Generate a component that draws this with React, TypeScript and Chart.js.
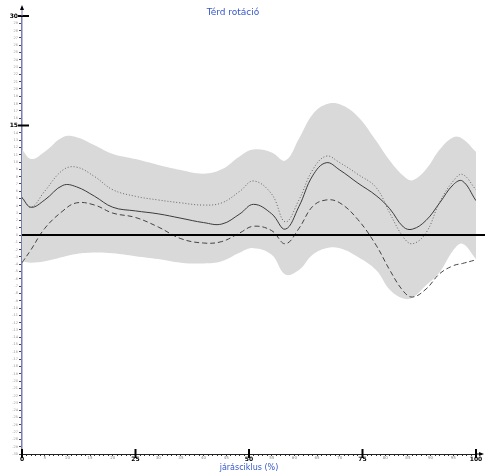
import React, { useEffect, useRef } from 'react';
import { Chart, registerables } from 'chart.js';

Chart.register(...registerables);

// gait cycle (%) sample positions
const gaitCycle = [0, 2, 5, 9, 12, 16, 20, 25, 30, 35, 40, 44, 48, 51, 55, 58, 61, 64, 67, 70, 74, 78, 81, 84, 86, 89, 92, 95, 97, 100];
// mean knee rotation (solid)
const meanCurve = [5.1, 3.8, 4.8, 6.8, 6.6, 5.3, 3.8, 3.3, 2.9, 2.3, 1.7, 1.5, 2.9, 4.2, 2.9, 0.8, 3.9, 8.1, 9.9, 8.9, 7.1, 5.4, 3.6, 1.1, 0.8, 2.0, 4.4, 6.9, 7.4, 4.7];
// dotted curve
const dottedCurve = [5.2, 3.8, 6.0, 8.9, 9.3, 8.0, 6.2, 5.3, 4.8, 4.4, 4.1, 4.4, 6.0, 7.4, 5.6, 1.8, 4.8, 8.9, 10.8, 9.9, 8.3, 6.5, 3.0, -0.3, -1.2, 0.3, 4.5, 7.4, 8.3, 6.2];
// dashed curve
const dashedCurve = [-3.8, -2.0, 0.9, 3.3, 4.4, 4.1, 3.0, 2.4, 1.1, -0.5, -1.1, -0.9, 0.3, 1.2, 0.6, -1.2, 0.9, 3.9, 4.8, 4.4, 2.1, -1.4, -4.8, -7.7, -8.5, -7.4, -5.3, -4.2, -3.9, -3.4];
// normal band (gray)
const bandUpper = [11.7, 10.4, 11.4, 13.4, 13.4, 12.3, 11.1, 10.4, 9.6, 8.9, 8.4, 9.0, 10.8, 11.7, 11.3, 10.2, 13.2, 16.5, 17.9, 17.9, 16.2, 12.9, 10.2, 8.1, 7.5, 9.0, 11.7, 13.4, 13.2, 11.4];
const bandLower = [-3.6, -3.8, -3.6, -3.0, -2.6, -2.4, -2.5, -2.9, -3.3, -3.8, -3.9, -3.6, -2.4, -1.8, -2.7, -5.4, -4.8, -2.7, -1.8, -1.8, -3.0, -4.8, -7.5, -8.7, -8.6, -6.9, -5.1, -2.1, -1.2, -3.3];

const yMajorTicks = [30, 15];
const xMajorTicks = [0, 25, 50, 75, 100];
const zeroLineValue = 0;

const chartTitle = 'Térd rotáció';
const xTitle = 'járásciklus (%)';

const FONT = 'Verdana, "DejaVu Sans", sans-serif';
const BLUE = '#3557c9';

const decor = {
  id: 'decor',
  afterDatasetsDraw(chart: any) {
    const { ctx, scales } = chart;
    const x = scales.x;
    const y = scales.y;
    ctx.save();
    // zero line
    const y0 = y.getPixelForValue(zeroLineValue);
    ctx.strokeStyle = '#000';
    ctx.lineWidth = 2;
    ctx.beginPath();
    ctx.moveTo(x.left, y0);
    ctx.lineTo(chart.width, y0);
    ctx.stroke();
    // y major marks
    ctx.lineWidth = 2;
    for (const v of yMajorTicks) {
      const py = y.getPixelForValue(v);
      ctx.beginPath();
      ctx.moveTo(x.left - 4, py);
      ctx.lineTo(x.left + 7, py);
      ctx.stroke();
    }
    // x major marks
    for (const v of xMajorTicks) {
      const px = x.getPixelForValue(v);
      ctx.beginPath();
      ctx.moveTo(px, y.bottom - 5);
      ctx.lineTo(px, y.bottom + 4);
      ctx.stroke();
    }
    // axis arrows
    ctx.lineWidth = 1;
    ctx.strokeStyle = '#7c7cb8';
    ctx.beginPath();
    ctx.moveTo(x.left, y.top);
    ctx.lineTo(x.left, y.top - 8);
    ctx.stroke();
    ctx.fillStyle = '#000';
    ctx.beginPath();
    ctx.moveTo(x.left, y.top - 11);
    ctx.lineTo(x.left - 2, y.top - 6);
    ctx.lineTo(x.left + 2, y.top - 6);
    ctx.closePath();
    ctx.fill();
    ctx.strokeStyle = '#000';
    ctx.beginPath();
    ctx.moveTo(x.right, y.bottom);
    ctx.lineTo(x.right + 4, y.bottom);
    ctx.stroke();
    ctx.beginPath();
    ctx.moveTo(x.right + 8, y.bottom);
    ctx.lineTo(x.right + 3, y.bottom - 2);
    ctx.lineTo(x.right + 3, y.bottom + 2);
    ctx.closePath();
    ctx.fill();
    // chart title
    ctx.fillStyle = BLUE;
    ctx.font = `9px ${FONT}`;
    ctx.textAlign = 'center';
    ctx.textBaseline = 'middle';
    ctx.fillText(chartTitle, 233, 13);
    ctx.restore();
  },
};

export default function App() {
  const ref = useRef<HTMLCanvasElement>(null);
  useEffect(() => {
    const pts = (ys: number[]) => ys.map((v, i) => ({ x: gaitCycle[i], y: v }));
    const common = { pointRadius: 0, borderWidth: 1, tension: 0.4, fill: false };
    const chart = new Chart(ref.current as HTMLCanvasElement, {
      type: 'line',
      data: {
        datasets: [
          { ...common, data: pts(bandUpper), borderWidth: 0, borderColor: 'rgba(0,0,0,0)', backgroundColor: '#d9d9d9', fill: '+1' },
          { ...common, data: pts(bandLower), borderWidth: 0, borderColor: 'rgba(0,0,0,0)', backgroundColor: '#d9d9d9' },
          { ...common, data: pts(meanCurve), borderColor: '#3c3c3c' },
          { ...common, data: pts(dottedCurve), borderColor: '#666', borderDash: [1, 2] },
          { ...common, data: pts(dashedCurve), borderColor: '#444', borderDash: [5, 3] },
        ],
      },
      options: {
        responsive: false,
        animation: false,
        devicePixelRatio: 1,
        events: [],
        layout: { padding: { top: 16, right: 9, left: 0, bottom: 0 } },
        plugins: {
          legend: { display: false },
          tooltip: { enabled: false },
          filler: { drawTime: 'beforeDatasetsDraw' },
        },
        scales: {
          x: {
            type: 'linear',
            min: 0,
            max: 100,
            afterFit: (s: any) => { s.height = 19; },
            ticks: {
              stepSize: 1,
              autoSkip: false,
              maxRotation: 0,
              minRotation: 0,
              padding: 0,
              callback: (v: any) => (Number(v) % 5 === 0 ? String(v) : ''),
              font: (c: any) => (xMajorTicks.includes(c.tick?.value) ? { size: 6, weight: 'bold', family: FONT } : { size: 4, family: FONT }),
              color: (c: any) => (xMajorTicks.includes(c.tick?.value) ? '#000' : '#888'),
            },
            grid: { drawOnChartArea: false, tickLength: 2, tickColor: '#333' },
            border: { color: '#222', width: 1 },
            title: { display: true, text: xTitle, color: BLUE, font: { size: 8, family: FONT }, padding: 0 },
          },
          y: {
            type: 'linear',
            min: -30,
            max: 30,
            afterFit: (s: any) => { s.width = 22; },
            ticks: {
              stepSize: 1,
              autoSkip: false,
              padding: 1,
              callback: (v: any) => String(v),
              font: (c: any) => (yMajorTicks.includes(c.tick?.value) ? { size: 6, weight: 'bold', family: FONT } : { size: 3.5, family: FONT }),
              color: (c: any) => (yMajorTicks.includes(c.tick?.value) ? '#000' : '#999'),
            },
            grid: { drawOnChartArea: false, tickLength: 3, tickColor: '#444' },
            border: { color: '#7c7cb8', width: 1.5 },
          },
        },
      },
      plugins: [decor],
    });
    return () => chart.destroy();
  }, []);
  return (
    <div style={{ position: 'fixed', left: 0, top: 0, width: 485, height: 473, background: '#fff' }}>
      <canvas ref={ref} width={485} height={473} style={{ display: 'block' }} />
    </div>
  );
}
